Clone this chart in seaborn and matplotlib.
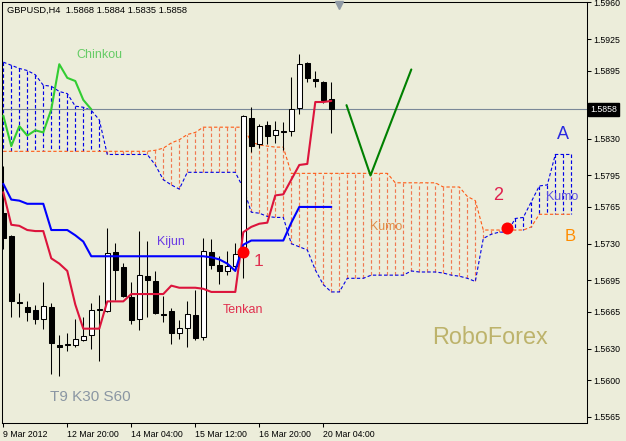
import matplotlib

matplotlib.use("Agg")
import matplotlib.pyplot as plt
import matplotlib.transforms as mtransforms
import numpy as np
import seaborn as sns

# chart text
symbol_title = "GBPUSD,H4  1.5868 1.5884 1.5835 1.5858"
date_ticks = [0, 8, 16, 24, 32, 40]
date_labels = ["9 Mar 2012", "12 Mar 20:00", "14 Mar 04:00", "15 Mar 12:00", "16 Mar 20:00", "20 Mar 04:00"]
price_ticks = [1.5960, 1.5925, 1.5895, 1.5830, 1.5795, 1.5765, 1.5730, 1.5695, 1.5665, 1.5630, 1.5600, 1.5565]
last_price = 1.5858

# H4 candles
opens = [1.5759, 1.5737, 1.5674, 1.5670, 1.5667, 1.5658, 1.5670, 1.5633, 1.5633, 1.5633,
         1.5638, 1.5643, 1.5667, 1.5666, 1.5722, 1.5708, 1.5679, 1.5658, 1.5699, 1.5694,
         1.5663, 1.5666, 1.5645, 1.5650, 1.5662, 1.5641, 1.5722, 1.5710, 1.5704, 1.5709,
         1.5719, 1.5850, 1.5825, 1.5843, 1.5834, 1.5837, 1.5837, 1.5859, 1.5902, 1.5887,
         1.5884, 1.5868]
highs = [1.5804, 1.5738, 1.5683, 1.5675, 1.5672, 1.5693, 1.5673, 1.5643, 1.5645, 1.5658,
         1.5660, 1.5673, 1.5681, 1.5745, 1.5731, 1.5712, 1.5693, 1.5742, 1.5733, 1.5704,
         1.5680, 1.5669, 1.5657, 1.5675, 1.5686, 1.5735, 1.5734, 1.5718, 1.5723, 1.5731,
         1.5853, 1.5860, 1.5844, 1.5847, 1.5847, 1.5846, 1.5889, 1.5911, 1.5903, 1.5895,
         1.5885, 1.5884]
lows = [1.5725, 1.5660, 1.5660, 1.5656, 1.5653, 1.5649, 1.5606, 1.5604, 1.5628, 1.5632,
        1.5637, 1.5630, 1.5618, 1.5665, 1.5676, 1.5679, 1.5653, 1.5648, 1.5660, 1.5663,
        1.5655, 1.5634, 1.5639, 1.5632, 1.5638, 1.5638, 1.5706, 1.5692, 1.5700, 1.5705,
        1.5697, 1.5817, 1.5821, 1.5825, 1.5826, 1.5819, 1.5833, 1.5854, 1.5884, 1.5879,
        1.5864, 1.5835]
closes = [1.5735, 1.5675, 1.5673, 1.5665, 1.5658, 1.5671, 1.5635, 1.5632, 1.5634, 1.5639,
          1.5642, 1.5667, 1.5668, 1.5721, 1.5705, 1.5680, 1.5657, 1.5700, 1.5695, 1.5664,
          1.5662, 1.5645, 1.5650, 1.5663, 1.5640, 1.5723, 1.5710, 1.5704, 1.5709, 1.5720,
          1.5852, 1.5823, 1.5842, 1.5833, 1.5838, 1.5836, 1.5858, 1.5901, 1.5888, 1.5885,
          1.5867, 1.5858]

# ichimoku lines
tenkan = [1.5779, 1.5748, 1.5747, 1.5743, 1.5742, 1.5742, 1.5716, 1.5711, 1.5704, 1.5672,
          1.5649, 1.5649, 1.5649, 1.5675, 1.5675, 1.5675, 1.5682, 1.5682, 1.5682, 1.5682,
          1.5682, 1.5690, 1.5688, 1.5688, 1.5688, 1.5687, 1.5684, 1.5684, 1.5684, 1.5684,
          1.5741, 1.5746, 1.5749, 1.5750, 1.5776, 1.5777, 1.5791, 1.5805, 1.5806, 1.5865,
          1.5865, 1.5866]
kijun = [1.5787, 1.5772, 1.5771, 1.5768, 1.5768, 1.5768, 1.5743, 1.5743, 1.5743, 1.5738,
         1.5732, 1.5718, 1.5718, 1.5718, 1.5718, 1.5718, 1.5718, 1.5718, 1.5718, 1.5718,
         1.5718, 1.5718, 1.5718, 1.5718, 1.5718, 1.5718, 1.5717, 1.5715, 1.5711, 1.5704,
         1.5729, 1.5733, 1.5733, 1.5733, 1.5733, 1.5733, 1.5750, 1.5765, 1.5765, 1.5765,
         1.5765, 1.5765]
senkou_a = [1.5903, 1.5900, 1.5897, 1.5895, 1.5891, 1.5881, 1.5880, 1.5875, 1.5873, 1.5861,
            1.5860, 1.5857, 1.5848, 1.5815, 1.5815, 1.5815, 1.5815, 1.5815, 1.5815, 1.5805,
            1.5791, 1.5786, 1.5782, 1.5798, 1.5798, 1.5798, 1.5798, 1.5798, 1.5798, 1.5798,
            1.5783, 1.5760, 1.5759, 1.5756, 1.5755, 1.5755, 1.5730, 1.5727, 1.5724, 1.5705,
            1.5691, 1.5684, 1.5684, 1.5697, 1.5697, 1.5697, 1.5700, 1.5700, 1.5700, 1.5700,
            1.5700, 1.5704, 1.5703, 1.5703, 1.5703, 1.5702, 1.5700, 1.5699, 1.5697, 1.5694,
            1.5735, 1.5739, 1.5741, 1.5741, 1.5754, 1.5755, 1.5770, 1.5785, 1.5786, 1.5815,
            1.5815, 1.5815]
senkou_b = [1.5818, 1.5818, 1.5818, 1.5818, 1.5818, 1.5818, 1.5818, 1.5818, 1.5818, 1.5818,
            1.5818, 1.5818, 1.5818, 1.5818, 1.5818, 1.5818, 1.5818, 1.5818, 1.5818, 1.5819,
            1.5821, 1.5826, 1.5829, 1.5834, 1.5836, 1.5841, 1.5841, 1.5841, 1.5841, 1.5841,
            1.5841, 1.5827, 1.5824, 1.5823, 1.5822, 1.5822, 1.5797, 1.5797, 1.5797, 1.5797,
            1.5797, 1.5797, 1.5797, 1.5797, 1.5797, 1.5797, 1.5797, 1.5797, 1.5797, 1.5788,
            1.5788, 1.5788, 1.5788, 1.5788, 1.5788, 1.5784, 1.5784, 1.5784, 1.5775, 1.5771,
            1.5743, 1.5743, 1.5743, 1.5743, 1.5743, 1.5743, 1.5746, 1.5758, 1.5758, 1.5758,
            1.5758, 1.5758]
chinkou_shift = 30

# drawn annotations
v_idx = [42.9, 45.9, 51.0]
v_price = [1.5862, 1.5795, 1.5896]
signal_idx = [30, 63]
signal_price = [1.5722, 1.5745]

BG = "#ecedda"
BLUE = "#0000e6"
ORANGE = "#ff5a14"
HATCH_ORANGE = "#f07850"
DASH = (0, (3, 2))

sns.set_style("white")
plt.rcParams["font.family"] = ["Liberation Sans", "DejaVu Sans"]

fig = plt.figure(figsize=(6.26, 4.41), dpi=100, facecolor=BG)
ax = fig.add_axes([2 / 626, 18 / 441, 585 / 626, 421 / 441])
ax.set_facecolor(BG)

# kumo
a = np.array(senkou_a)
b = np.array(senkou_b)
cloud_idx = np.arange(len(a))
hatch_colors = np.where(a >= b, BLUE, HATCH_ORANGE)
ax.vlines(cloud_idx, a, b, colors=hatch_colors, linestyles=DASH, linewidth=0.85, zorder=1)
sns.lineplot(x=cloud_idx, y=a, ax=ax, color=BLUE, linewidth=0.8, linestyle=DASH, zorder=1.2)
sns.lineplot(x=cloud_idx, y=b, ax=ax, color=ORANGE, linewidth=0.8, linestyle=DASH, zorder=1.2)

ax.axhline(last_price, color="#7a8898", linewidth=0.8, zorder=1.5)

# candles
idx = np.arange(len(closes))
o = np.array(opens)
c = np.array(closes)
ax.vlines(idx, lows, highs, color="black", linewidth=0.75, zorder=3)
bottoms = np.minimum(o, c)
heights = np.maximum(np.abs(c - o), 0.00008)
body_colors = np.where(c > o, "white", "black")
ax.bar(idx, heights, bottom=bottoms, width=0.6, color=body_colors,
       edgecolor="black", linewidth=0.75, zorder=3.5)

# ichimoku lines
sns.lineplot(x=idx, y=tenkan, ax=ax, color="#dc143c", linewidth=1.5, zorder=4)
sns.lineplot(x=idx, y=kijun, ax=ax, color="#0000ff", linewidth=1.5, zorder=4)
chinkou = c[chinkou_shift:]
sns.lineplot(x=np.arange(len(chinkou)), y=chinkou, ax=ax, color="#32cd32", linewidth=1.5, zorder=4)

ax.scatter(signal_idx, signal_price, s=75, color="#ff0000", zorder=4.5, linewidths=0)
sns.lineplot(x=v_idx, y=v_price, ax=ax, color="#008000", linewidth=1.5, sort=False, zorder=4)

# labels on the chart
lab = dict(ha="center", va="center", zorder=6)
ax.text(11.96, 1.5910, "Chinkou", color="#66cc66", fontsize=9, **lab)
ax.text(20.9, 1.5732, "Kijun", color="#6a3be4", fontsize=9, **lab)
ax.text(29.9, 1.5667, "Tenkan", color="#e0304f", fontsize=9, **lab)
ax.text(47.8, 1.5746, "Kumo", color="#e08a45", fontsize=9, **lab)
ax.text(69.9, 1.5774, "Kumo", color="#5b4fe0", fontsize=9, **lab)
ax.text(69.9, 1.5834, "A", color="#2a2ae0", fontsize=13, **lab)
ax.text(70.9, 1.5737, "B", color="#ff8c00", fontsize=12, **lab)
ax.text(31.9, 1.5713, "1", color="#e03050", fontsize=12.5, **lab)
ax.text(61.9, 1.5776, "2", color="#e0204f", fontsize=13, **lab)
ax.text(60.8, 1.5641, "RoboForex", color="#bdb36b", fontsize=16.8, **lab)
ax.text(10.9, 1.5584, "T9 K30 S60", color="#8a96a3", fontsize=11, **lab)

# axes
ax.set_xlim(-0.16, 72.96)
ax.set_ylim(1.55591, 1.59603)
ax.set_xlabel("")
ax.set_ylabel("")
ax.yaxis.tick_right()
ax.set_yticks(price_ticks)
ax.set_yticklabels([f"{p:.4f}" for p in price_ticks])
ax.set_xticks(date_ticks)
ax.set_xticklabels(date_labels, ha="left")
ax.tick_params(axis="both", direction="out", length=3, width=0.75, labelsize=6.3,
               colors="black", pad=1.5)
ax.tick_params(axis="y", right=True, left=False)
ax.tick_params(axis="x", bottom=True, pad=2)
for spine in ax.spines.values():
    spine.set_visible(True)
    spine.set_color("black")
    spine.set_linewidth(0.75)
ax.grid(False)

trans = mtransforms.blended_transform_factory(ax.transAxes, ax.transData)
ax.text(1.0 + 3 / 585, last_price, f"{last_price:.4f}", transform=trans, color="white",
        fontsize=6.3, ha="left", va="center", clip_on=False,
        bbox=dict(boxstyle="square,pad=0.25", fc="black", ec="black"))

top_trans = mtransforms.blended_transform_factory(ax.transData, ax.transAxes)
ax.plot([42.0], [1 - 3 / 421], marker="v", markersize=6, color="#8f9aa5",
        transform=top_trans, clip_on=False, zorder=7)

fig.text(7 / 626, 1 - 10.7 / 441, symbol_title, fontsize=6.7, color="black",
         ha="left", va="center")

fig.savefig("out.png", dpi=100, facecolor=BG)
